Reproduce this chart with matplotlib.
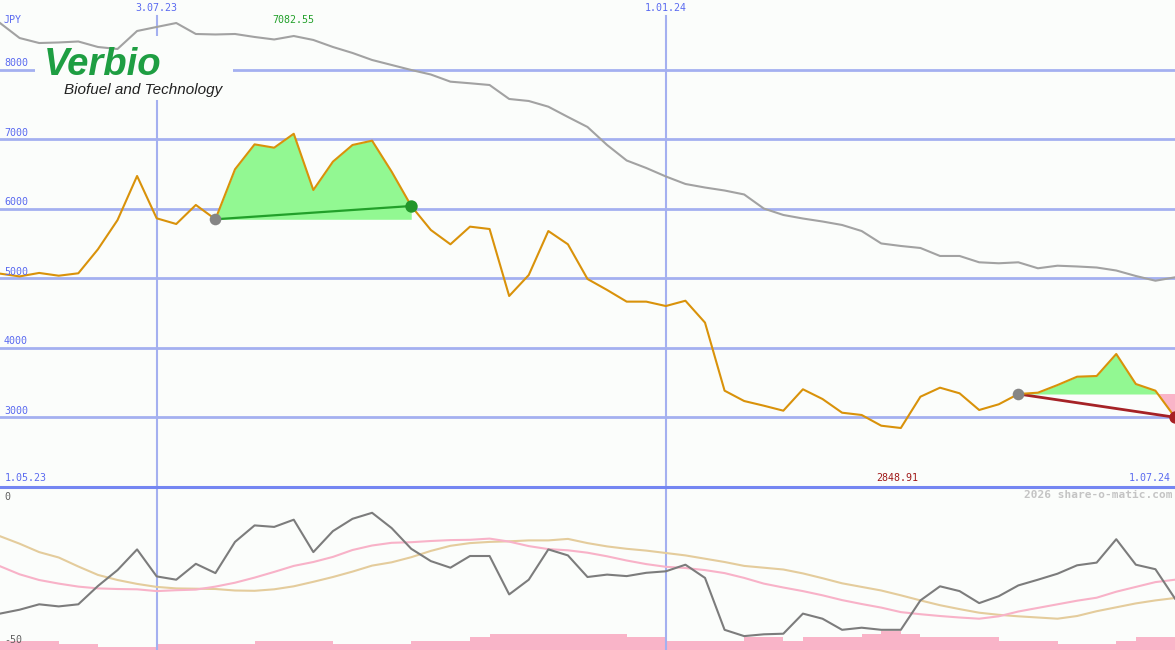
import numpy as np
import pandas as pd
import matplotlib
matplotlib.use('Agg')
import matplotlib.pyplot as plt
from matplotlib.patches import Rectangle

# weekly closes, JPY
weeks = pd.date_range('2023-05-08', periods=61, freq='7D')
price = [5070, 5030, 5080, 5040, 5075, 5420, 5840, 6475, 5866, 5784,
         6058, 5852, 6571, 6930, 6882, 7082.55, 6273, 6681, 6921, 6983,
         6537, 6043, 5698, 5492, 5746, 5712, 4748, 5050, 5683, 5492,
         4993, 4835, 4667, 4667, 4604, 4680, 4365, 3386, 3237, 3170,
         3098, 3406, 3266, 3069, 3036, 2882, 2848.91, 3299, 3429, 3348,
         3108, 3190, 3338, 3357, 3467, 3587, 3597, 3914, 3482, 3386,
         3003]
avg_long = [8676, 8460, 8388, 8396, 8410, 8331, 8302, 8561, 8619, 8676,
            8518, 8511, 8518, 8475, 8439, 8489, 8432, 8331, 8245, 8144,
            8072, 8000, 7935, 7832, 7809, 7784, 7583, 7554, 7472, 7324,
            7180, 6921, 6698, 6590, 6468, 6360, 6309, 6266, 6209, 6007,
            5914, 5863, 5820, 5770, 5683, 5504, 5468, 5439, 5324, 5324,
            5233, 5219, 5233, 5147, 5184, 5173, 5158, 5115, 5036, 4968,
            5017]
# lower panel indicator
osc = [-41.2, -39.9, -38.1, -38.8, -38.1, -32.0, -26.7, -19.8, -28.8, -29.9,
       -24.6, -27.7, -17.3, -11.8, -12.3, -9.9, -20.7, -13.7, -9.6, -7.6,
       -12.7, -19.6, -23.7, -25.9, -22.0, -22.0, -34.8, -29.9, -19.8, -21.8,
       -29.0, -28.2, -28.7, -27.6, -27.1, -24.9, -29.3, -46.6, -48.7, -48.1,
       -47.9, -41.2, -42.9, -46.6, -45.9, -46.6, -46.6, -36.8, -32.1, -33.7,
       -37.7, -35.4, -31.8, -29.9, -27.9, -25.1, -24.2, -16.4, -24.9, -26.4,
       -36.2]
osc_fast = [-25.4, -28.1, -30.0, -31.2, -32.2, -32.8, -33.0, -33.1, -33.7, -33.4,
            -33.2, -32.2, -30.9, -29.2, -27.3, -25.3, -24.0, -22.3, -20.0, -18.5,
            -17.6, -17.4, -17.0, -16.7, -16.6, -16.2, -17.2, -18.7, -19.7, -20.1,
            -20.9, -22.1, -23.5, -24.7, -25.6, -26.0, -26.7, -27.7, -29.3, -31.2,
            -32.5, -33.7, -35.1, -36.7, -38.0, -39.2, -40.7, -41.4, -42.0, -42.5,
            -42.9, -42.1, -40.5, -39.3, -38.1, -36.9, -35.9, -33.9, -32.3, -30.7,
            -29.9]
osc_slow = [-15.4, -17.9, -20.7, -22.5, -25.5, -28.3, -30.0, -31.3, -32.3, -32.8,
            -32.9, -33.0, -33.5, -33.6, -33.1, -32.1, -30.6, -29.0, -27.2, -25.2,
            -24.1, -22.4, -20.3, -18.6, -17.7, -17.3, -17.1, -16.8, -16.8, -16.3,
            -17.7, -18.8, -19.6, -20.2, -21.0, -21.8, -22.9, -24.0, -25.3, -25.9,
            -26.5, -27.8, -29.4, -31.1, -32.3, -33.5, -35.1, -36.8, -38.4, -39.7,
            -40.9, -41.6, -42.1, -42.5, -42.9, -42.0, -40.4, -39.1, -37.8, -36.8,
            -36.0]
volume = [3, 3, 3, 2, 2, 1, 1, 1, 2, 2, 2, 2, 2, 3, 3, 3, 3, 2, 2, 2,
          2, 3, 3, 3, 4, 5, 5, 5, 5, 5, 5, 5, 4, 4, 3, 3, 3, 3, 4, 4,
          3, 4, 4, 4, 5, 6, 5, 4, 4, 4, 4, 3, 3, 3, 2, 2, 2, 3, 4, 4]

price_ticks = [8000, 7000, 6000, 5000, 4000, 3000]
date_marks = ['2023-07-03', '2024-01-01']
date_labels = ['3.07.23', '1.01.24']
win1 = (11, 21)   # gain window
win2 = (52, 60)   # loss window

bg = '#fbfdfb'
grid_c = '#a4b0f0'
lab_c = '#5a6af0'
mono = 'DejaVu Sans Mono'

W, H = 1175, 650
fig = plt.figure(figsize=(W / 100, H / 100), dpi=100, facecolor=bg)
ax = fig.add_axes([0, 163 / H, 1, 487 / H], facecolor=bg)
ax2 = fig.add_axes([0, 0, 1, 163 / H], facecolor=bg)

p = np.array(price)
for a in (ax, ax2):
    a.set_xlim(weeks[0], weeks[-1])
    a.set_xticks([])
    a.set_yticks([])
    for s in a.spines.values():
        s.set_visible(False)

ax.set_ylim(2000, 9007)
ax2.set_ylim(-53.33, 1)

for v in price_ticks:
    ax.axhline(v, color=grid_c, lw=2, zorder=1)
    ax.annotate(str(v), xy=(0, v), xycoords=('axes fraction', 'data'),
                xytext=(4, 1.5), textcoords='offset pixels', ha='left', va='bottom',
                color=lab_c, fontsize=7.2, family=mono, zorder=6)
for d, lab in zip(date_marks, date_labels):
    d = pd.Timestamp(d)
    ax.axvline(d, ymax=1 - 16 / 487, color=grid_c, lw=1.5, zorder=1)
    ax2.axvline(d, color=grid_c, lw=1.5, zorder=1)
    ax.annotate(lab, xy=(d, 1), xycoords=('data', 'axes fraction'),
                xytext=(0, -3), textcoords='offset pixels', ha='center', va='top',
                color=lab_c, fontsize=7.2, family=mono)

ax.spines['bottom'].set_visible(True)
ax.spines['bottom'].set_color('#7486f2')
ax.spines['bottom'].set_linewidth(2.2)
ax.set_zorder(5)

# logo box
ax.add_patch(Rectangle((35 / W, 1 - 100 / 487), 198 / W, 64 / 487,
                       transform=ax.transAxes, facecolor=bg, edgecolor='none', zorder=2))
fig.text(44 / W, 1 - 75 / H, 'Verbio', color='#1e9e42', fontsize=27.5,
         fontweight='bold', style='italic', family=['Liberation Sans Narrow', 'Liberation Sans'],
         ha='left', va='baseline', zorder=7)
fig.text(64 / W, 1 - 94 / H, 'Biofuel and Technology', color='#222222', fontsize=11,
         style='italic', family=['Liberation Sans', 'DejaVu Sans'], ha='left', va='baseline', zorder=7)

ax.plot(weeks, avg_long, color='#a2a2a2', lw=1.5, zorder=3)

# gain / loss windows
a0, a1 = win1
ax.fill_between(weeks[a0:a1 + 1], p[a0:a1 + 1], p[a0], color='#92f892', lw=0, zorder=2.5)
ax.plot([weeks[a0], weeks[a1]], [p[a0], p[a1]], color='#22a02a', lw=1.6, zorder=4)
b0, b1 = win2
seg = p[b0:b1 + 1]
ax.fill_between(weeks[b0:b1 + 1], seg, p[b0], where=seg >= p[b0], interpolate=True,
                color='#92f892', lw=0, zorder=2.5)
ax.fill_between(weeks[b0:b1 + 1], seg, p[b0], where=seg <= p[b0], interpolate=True,
                color='#f9b4c8', lw=0, zorder=2.5)
ax.plot([weeks[b0], weeks[b1]], [p[b0], p[b1]], color='#a52226', lw=2, zorder=4)

ax.plot(weeks, p, color='#d9920a', lw=1.5, zorder=5)
ax.scatter([weeks[a0], weeks[b0]], [p[a0], p[b0]], s=70, color='#858585', zorder=6, lw=0)
ax.scatter([weeks[a1]], [p[a1]], s=80, color='#22962a', zorder=6, lw=0)
ax.scatter([weeks[b1]], [p[b1]], s=80, color='#a82024', zorder=6, lw=0)

imax, imin = int(np.argmax(p)), int(np.argmin(p))
ax.annotate(f'{p[imax]:.2f}', xy=(weeks[imax], 1), xycoords=('data', 'axes fraction'),
            xytext=(0, -15), textcoords='offset pixels', ha='center', va='top',
            color='#22a02a', fontsize=7.2, family=mono)
ax.annotate(f'{p[imin]:.2f}', xy=(weeks[imin], 0), xycoords=('data', 'axes fraction'),
            xytext=(-4, 4), textcoords='offset pixels', ha='center', va='bottom',
            color='#a01818', fontsize=7.2, family=mono)
ax.text(4 / W, 1 - 25 / 487, 'JPY', transform=ax.transAxes, ha='left', va='bottom',
        color=lab_c, fontsize=7.2, family=mono)
ax.annotate('1.05.23', xy=(0, 0), xycoords='axes fraction', xytext=(5, 4),
            textcoords='offset pixels', ha='left', va='bottom', color=lab_c, fontsize=7.2, family=mono)
ax.annotate('1.07.24', xy=(1, 0), xycoords='axes fraction', xytext=(-4, 4),
            textcoords='offset pixels', ha='right', va='bottom', color=lab_c, fontsize=7.2, family=mono)

# lower panel
ax3 = ax2.twinx()
ax3.set_ylim(0, 163 / 3.15)
ax3.set_yticks([])
for s in ax3.spines.values():
    s.set_visible(False)
ax3.bar(weeks[:-1], volume, width=7, align='edge', color='#f9b4c8', lw=0, zorder=1)
ax2.set_zorder(ax3.get_zorder() + 1)
ax2.patch.set_visible(False)
ax3.patch.set_visible(True)
ax3.patch.set_facecolor(bg)

ax2.plot(weeks, osc_slow, color='#e4cc9c', lw=1.5, zorder=3)
ax2.plot(weeks, osc_fast, color='#f8b2c8', lw=1.5, zorder=3)
ax2.plot(weeks, osc, color='#7c7c7c', lw=1.5, zorder=4)

ax2.annotate('0', xy=(0, 0), xycoords=('axes fraction', 'data'), xytext=(4, -2),
             textcoords='offset pixels', ha='left', va='top', color='#606060', fontsize=7.2, family=mono)
ax2.annotate('-50', xy=(0, -50), xycoords=('axes fraction', 'data'), xytext=(4, 0),
             textcoords='offset pixels', ha='left', va='center', color='#606060', fontsize=7.2, family=mono)
ax2.annotate('2026 share-o-matic.com', xy=(1, 1), xycoords='axes fraction', xytext=(-3, -3),
             textcoords='offset pixels', ha='right', va='top', color='#c4c4c4', fontsize=8,
             fontweight='bold', family=mono)

fig.savefig('out.png', dpi=100, facecolor=bg)
